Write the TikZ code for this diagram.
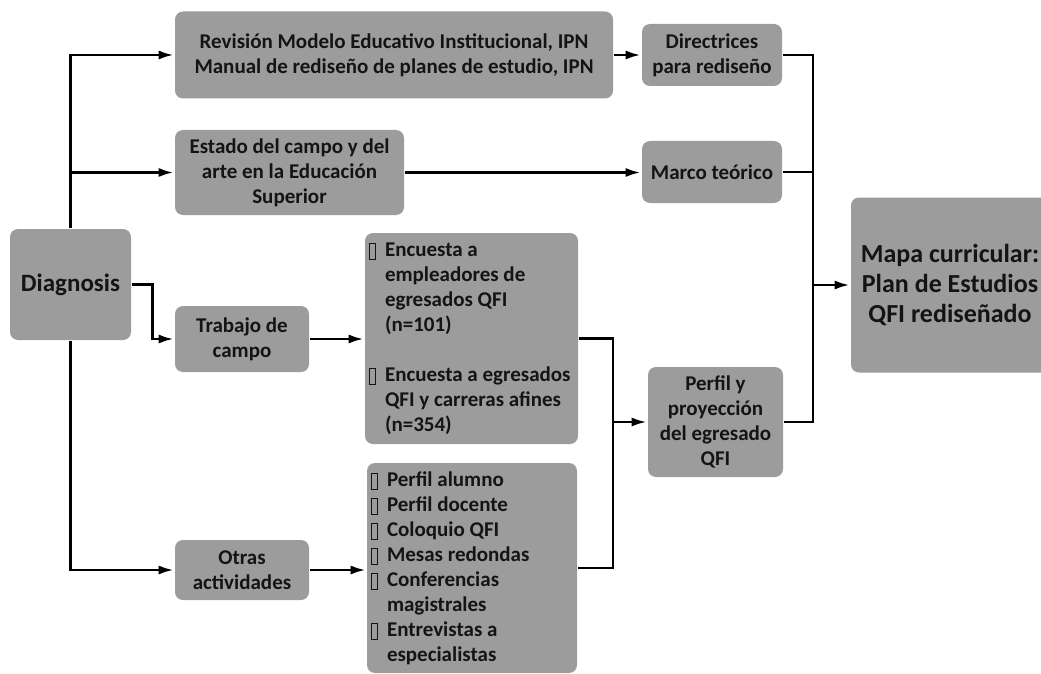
\documentclass[tikz,border=0pt]{standalone}
\usepackage{fontspec}
\setmainfont{Carlito}
\usetikzlibrary{arrows.meta}
\definecolor{boxgrau}{RGB}{156,156,156}
\definecolor{schrift}{RGB}{20,20,20}
% leeres Kaestchen (fehlendes Aufzaehlungszeichen)
\newcommand{\leer}{\makebox[16pt][l]{\raisebox{-2.5pt}{\setlength{\fboxsep}{0pt}\setlength{\fboxrule}{1pt}\fbox{\rule{0pt}{15pt}\hspace{5pt}}}}}
\newcommand{\weiter}{\hspace*{16pt}}

\begin{document}
\begin{tikzpicture}[x=1pt, y=-1pt, >={Latex[length=15pt,width=9pt]}, line width=2.6pt,
		font=\bfseries\fontsize{21}{25}\selectfont,
		block/.style={fill=boxgrau, rounded corners=8pt, align=center, inner sep=0pt, text=schrift},
		liste/.style={block, align=flush left, text width=205pt, inner xsep=4pt}]
				% Bildbereich
				\useasboundingbox (0,0) rectangle (1041,674);
				% Kaesten links
				\node[block, minimum width=121pt, minimum height=111pt, font=\bfseries\fontsize{25}{30}\selectfont] (diag) at (70.5,284.5) {Diagnosis};
				\node[block, minimum width=438pt, minimum height=87pt] (rev) at (394,55) {Revisión Modelo Educativo Institucional, IPN\\Manual de rediseño de planes de estudio, IPN};
				\node[block, minimum width=229pt, minimum height=85pt] (est) at (289.5,172.5) {Estado del campo y del\\arte en la Educación\\Superior};
				\node[block, minimum width=134pt, minimum height=66pt] (trab) at (242,339) {Trabajo de\\campo};
				\node[block, minimum width=134pt, minimum height=60pt] (otras) at (242,570) {Otras\\actividades};
				% Listen
				\node[liste, minimum height=211pt] (enc) at (471.5,338.5) {\leer Encuesta a\\\weiter empleadores de\\\weiter egresados QFI\\\weiter (n=101)\\[25pt]\leer Encuesta a egresados\\\weiter QFI y carreras afines\\\weiter (n=354)};
				\node[liste, text width=202pt, minimum height=210pt] (lista) at (472,568) {\leer Perfil alumno\\\leer Perfil docente\\\leer Coloquio QFI\\\leer Mesas redondas\\\leer Conferencias\\\weiter magistrales\\\leer Entrevistas a\\\weiter especialistas};
				% Kaesten rechts
				\node[block, minimum width=140pt, minimum height=62pt] (dir) at (712,55) {Directrices\\para rediseño};
				\node[block, minimum width=140pt, minimum height=62pt] (marco) at (712,172) {Marco teórico};
				\node[block, minimum width=135pt, minimum height=110pt] (perfil) at (715.5,422) {Perfil y\\proyección\\del egresado\\QFI};
				\node[block, minimum width=198pt, minimum height=175pt, font=\bfseries\fontsize{26}{30}\selectfont] (mapa) at (950,285) {Mapa curricular:\\Plan de Estudios\\QFI rediseñado};
				% Sammelpunkte
				\coordinate (sammel) at (613,422);
				\coordinate (knoten) at (813,285);
				% Verbindungen
				\draw[->] (diag.north) |- (rev.west);
				\draw[->] (diag.north) |- (est.west);
				\draw[->] (diag.south) |- (otras.west);
				\draw[->] (diag.east) -- ++(20,0) |- (trab.west);
				\draw[->] (trab.east) -- (trab.east -| enc.west);
				\draw[->] (otras.east) -- (otras.east -| lista.west);
				\draw[->] (rev.east) -- (rev.east -| dir.west);
				\draw[->] (est.east) -- (est.east -| marco.west);
				\draw (enc.east) -| (sammel);
				\draw (lista.east) -| (sammel);
				\draw[->] (sammel) -- (perfil.west);
				\draw (dir.east) -| (knoten);
				\draw (marco.east) -| (knoten);
				\draw (perfil.east) -| (knoten);
				\draw[->] (knoten) -- (mapa.west);
\end{tikzpicture}
\end{document}
